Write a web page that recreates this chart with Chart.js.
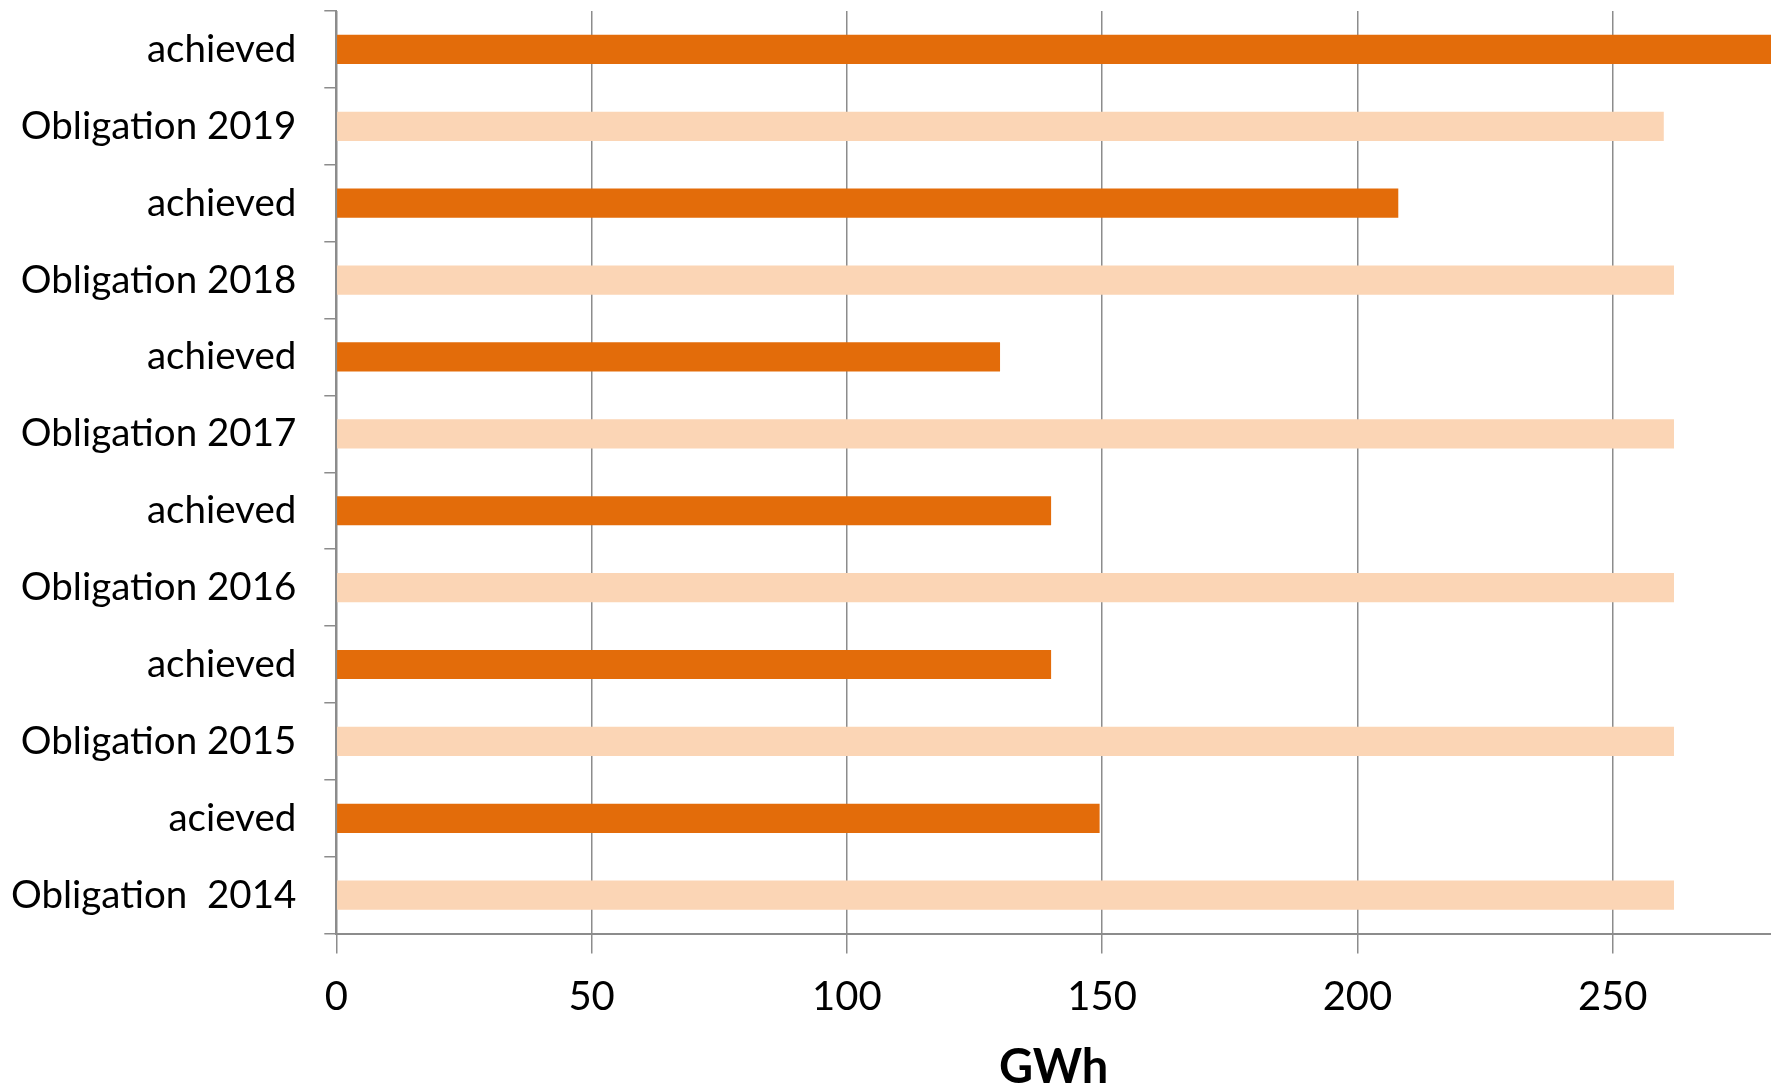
<!DOCTYPE html>
<html>
<head>
<meta charset="utf-8">
<script src="https://cdn.jsdelivr.net/npm/chart.js@4/dist/chart.umd.min.js"></script>
<style>
  html, body { margin: 0; padding: 0; background: #ffffff; }
  #wrap { width: 1771px; height: 1087px; position: relative; }
</style>
</head>
<body>
<div id="wrap"><canvas id="energyChart"></canvas></div>
<script>
const categories = ['achieved', 'Obligation 2019', 'achieved', 'Obligation 2018', 'achieved', 'Obligation 2017',
                    'achieved', 'Obligation 2016', 'achieved', 'Obligation 2015', 'acieved', 'Obligation  2014'];
const obligation = [null, 260, null, 262, null, 262, null, 262, null, 262, null, 262];
const achieved = [281, null, 208, null, 130, null, 140, null, 140, null, 149.5, null];
const xTicks = [0, 50, 100, 150, 200, 250];

const gridGrey = '#8c8c8c';

const ctx = document.getElementById('energyChart').getContext('2d');
new Chart(ctx, {
    type: 'bar',
    data: {
        labels: categories,
        datasets: [
            {
                label: 'Obligation',
                data: obligation,
                backgroundColor: '#fbd5b5',
                barPercentage: 0.38,
                categoryPercentage: 1
            },
            {
                label: 'achieved',
                data: achieved,
                backgroundColor: '#e36c0a',
                barPercentage: 0.38,
                categoryPercentage: 1
            }
        ]
    },
    options: {
        indexAxis: 'y',
        responsive: true,
        maintainAspectRatio: false,
        animation: false,
        grouped: false,
        skipNull: true,
        layout: { padding: { left: -17, top: 11, right: 0, bottom: -9 } },
        plugins: {
            legend: { display: false },
            tooltip: { enabled: false }
        },
        scales: {
            x: {
                min: 0,
                max: 281,
                afterBuildTicks: function(scale) {
                    scale.ticks = xTicks.map(v => ({ value: v }));
                },
                ticks: { color: '#000000', font: { family: 'Lato', size: 40 }, padding: 19 },
                grid: { color: gridGrey, lineWidth: 1.5, tickLength: 20 },
                border: { color: gridGrey, width: 2 },
                title: {
                    display: true,
                    text: 'GWh',
                    color: '#000000',
                    font: { family: 'Lato', size: 47, weight: 'bold' },
                    padding: { top: 0, bottom: 0 }
                }
            },
            y: {
                ticks: { color: '#000000', font: { family: 'Lato', size: 38.5 }, padding: 28 },
                grid: { offset: true, drawOnChartArea: false, color: gridGrey, lineWidth: 1.5, tickLength: 12 },
                border: { color: gridGrey, width: 2 },
                // the axis would otherwise keep label padding above the first bar
                afterFit: function(scale) {
                    scale.paddingTop = 0;
                    scale.paddingBottom = 0;
                }
            }
        }
    }
});
</script>
</body>
</html>
